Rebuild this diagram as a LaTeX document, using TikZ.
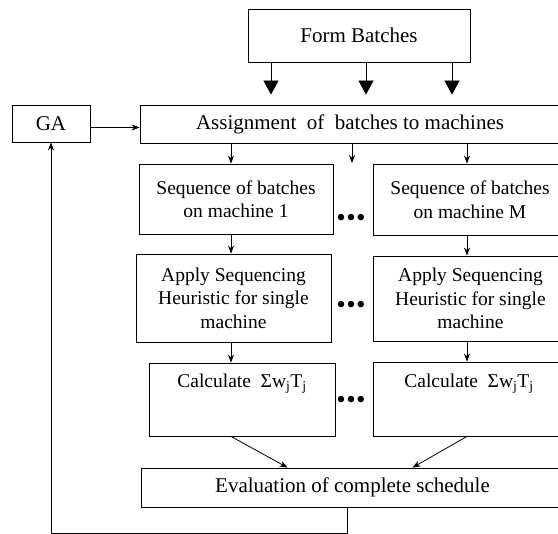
\documentclass[tikz,border=0pt]{standalone}
\usepackage{fontspec}
\setmainfont{Liberation Serif}
\usetikzlibrary{arrows.meta, positioning}

\begin{document}
\begin{tikzpicture}[x=1pt, y=-1pt,
  box/.style={draw, line width=0.8pt, align=center, inner sep=2pt,
    font=\fontsize{19.5}{23.5}\selectfont},
  bigbox/.style={box, font=\fontsize{21}{24}\selectfont},
  flow/.style={-{Stealth[length=8pt,width=6pt]}, line width=0.8pt},
  feed/.style={-{Triangle[length=14pt,width=15pt]}, line width=0.8pt, shorten >=10pt},
  dots/.style={inner sep=0pt, font=\fontsize{27}{27}\selectfont}]
  \clip (0,0) rectangle (558,534);

  \node[bigbox, minimum width=222pt, minimum height=53pt] (form) at (359,35.5) {Form Batches};
  \node[bigbox, minimum width=78pt, minimum height=37pt] (ga) at (51,123.5) {GA};
  \node[bigbox, minimum width=420pt, minimum height=38pt] (assign) at (350,124) {Assignment \ of \ batches to machines};

  \node[box, minimum width=194pt, minimum height=70pt] (seq1) at (236,199) {Sequence of batches\\on machine 1};
  \node[box, minimum width=194pt, minimum height=71pt] (seqM) at (470,199.5) {Sequence of batches\\on machine M};
  \node[box, minimum width=195pt, minimum height=88pt] (app1) at (233.5,298) {Apply Sequencing\\Heuristic for single\\machine};
  \node[box, minimum width=195pt, minimum height=85pt] (appM) at (470.5,298.5) {Apply Sequencing\\Heuristic for single\\machine};
  \node[box, minimum width=186pt, minimum height=73pt] (calc1) at (242,399.5) {Calculate \ Σw\textsubscript{j}T\textsubscript{j}\\[14pt]~};
  \node[box, minimum width=192pt, minimum height=74pt] (calcM) at (469,399) {Calculate \ Σw\textsubscript{j}T\textsubscript{j}\\[14pt]~};
  \node[bigbox, minimum width=423pt, minimum height=39pt] (eval) at (352.5,487.5) {Evaluation of complete schedule};

  \node[dots] (d1) at (351,220) {•\hspace{0.5pt}•\hspace{0.5pt}•};
  \node[dots] (d2) at (351,307) {•\hspace{0.5pt}•\hspace{0.5pt}•};
  \node[dots] (d3) at (351,402) {•\hspace{0.5pt}•\hspace{0.5pt}•};

  \coordinate (colL) at (231,0);
  \coordinate (colR) at (467,0);
  \coordinate (mid) at (352,163);
  \coordinate (back) at (51,533);

  \draw[feed] ([xshift=-88pt]form.south) -- ([xshift=-88pt]form.south |- assign.north);
  \draw[feed] ([xshift=7pt]form.south) -- ([xshift=7pt]form.south |- assign.north);
  \draw[feed] ([xshift=93pt]form.south) -- ([xshift=93pt]form.south |- assign.north);

  \draw[flow] ([yshift=-4pt]ga.east) -- ([yshift=-4pt]ga.east -| assign.west);
  \draw[flow] (assign.south -| colL) -- (seq1.north -| colL);
  \draw[flow] (assign.south -| mid) -- (mid);
  \draw[flow] (assign.south -| colR) -- (seqM.north -| colR);
  \draw[flow] (seq1.south -| colL) -- (app1.north -| colL);
  \draw[flow] (seqM.south -| colR) -- (appM.north -| colR);
  \draw[flow] (app1.south -| colL) -- (calc1.north -| colL);
  \draw[flow] (appM.south -| colR) -- (calcM.north -| colR);
  \draw[flow] (calc1.south -| colL) -- ([xshift=-65pt]eval.north);
  \draw[flow] (calcM.south -| colR) -- ([xshift=60pt]eval.north);
  \draw[flow] ([xshift=-5pt]eval.south) |- (back) -- (ga);
\end{tikzpicture}
\end{document}
